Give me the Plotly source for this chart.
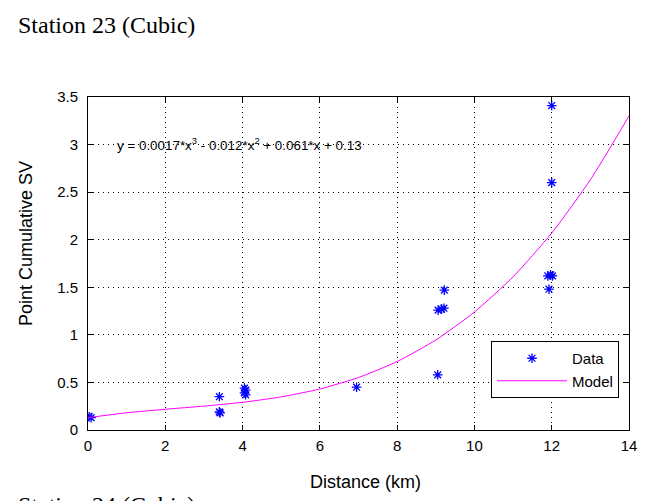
import plotly.graph_objects as go

# Data points (Distance km, Point Cumulative SV)
data_x = [0.03, 0.08, 3.4, 3.4, 3.42, 4.05, 4.05, 4.08, 4.08, 6.95, 9.05, 9.06, 9.15, 9.21, 9.22, 11.9, 11.93, 11.97, 12.02, 12.0, 12.0]
data_y = [0.14, 0.13, 0.35, 0.19, 0.18, 0.44, 0.39, 0.42, 0.37, 0.45, 0.58, 1.26, 1.27, 1.28, 1.47, 1.62, 1.48, 1.63, 1.62, 2.6, 3.41]

# Model curve values
model_x = [0, 1, 2, 3, 4, 5, 6, 7, 8, 9, 10, 11, 12, 13, 14]
model_y = [0.13, 0.181, 0.218, 0.251, 0.291, 0.348, 0.431, 0.552, 0.720, 0.946, 1.24, 1.61, 2.07, 2.63, 3.30]

x_ticks = [0, 2, 4, 6, 8, 10, 12, 14]
y_ticks = [0, 0.5, 1, 1.5, 2, 2.5, 3, 3.5]

W, H = 657, 501
L, R, T, B = 88, 28, 97, 71
PW, PH = W - L - R, H - T - B

def px(xp):
    return (xp - L) / PW

def py(yp):
    return (H - B - yp) / PH

fig = go.Figure()
fig.add_trace(go.Scatter(
    x=data_x, y=data_y, mode="markers", name="Data",
    marker=dict(symbol="asterisk-open", size=8, color="#0000FF",
                line=dict(color="#0000FF", width=1.3)),
))
fig.add_trace(go.Scatter(
    x=model_x, y=model_y, mode="lines", name="Model",
    line=dict(color="#FF00FF", width=1, shape="spline", smoothing=0.6),
))

axis_common = dict(
    showline=True, linecolor="black", linewidth=1, mirror="allticks",
    ticks="inside", ticklen=5, tickcolor="black",
    showgrid=True, gridcolor="black", griddash="1px,4px", gridwidth=1,
    zeroline=False,
    tickfont=dict(family="Liberation Sans, Arial", size=15, color="black"),
)

fig.update_xaxes(range=[0, 14], tickvals=x_ticks,
                 ticktext=[str(v) for v in x_ticks], ticklabelstandoff=2, **axis_common)
fig.update_yaxes(range=[0, 3.5], tickvals=y_ticks,
                 ticktext=[("%g" % v) for v in y_ticks], ticklabelstandoff=6, **axis_common)

fig.add_annotation(x=0.7, y=3.0, xref="x", yref="y", xanchor="left", yanchor="middle",
                   text="y = 0.0017*x<sup>3</sup> - 0.012*x<sup>2</sup> + 0.061*x + 0.13",
                   showarrow=False,
                   font=dict(family="Liberation Sans, Arial", size=13.4, color="black"))

fig.add_annotation(x=px(365), y=py(482), xref="paper", yref="paper",
                   xanchor="center", yanchor="middle", text="Distance (km)",
                   showarrow=False,
                   font=dict(family="Liberation Sans, Arial", size=18, color="black"))
fig.add_annotation(x=px(26), y=py(244), xref="paper", yref="paper",
                   xanchor="center", yanchor="middle", text="Point Cumulative SV",
                   textangle=-90, showarrow=False,
                   font=dict(family="Liberation Sans, Arial", size=18, color="black"))

fig.add_annotation(x=px(16), y=py(25), xref="paper", yref="paper",
                   xanchor="left", yanchor="middle", text="Station 23 (Cubic)",
                   showarrow=False,
                   font=dict(family="Liberation Serif, Times New Roman", size=24, color="black"))
fig.add_annotation(x=px(16), y=py(490), xref="paper", yref="paper",
                   xanchor="left", yanchor="top", text="Station 24 (Cubic)",
                   showarrow=False,
                   font=dict(family="Liberation Serif, Times New Roman", size=24, color="black"))

fig.update_layout(
    width=W, height=H,
    margin=dict(l=L, r=R, t=T, b=B, autoexpand=False),
    paper_bgcolor="white", plot_bgcolor="white",
    showlegend=True,
    legend=dict(x=px(619), y=py(341), xanchor="right", yanchor="top",
                bgcolor="white", bordercolor="black", borderwidth=1,
                font=dict(family="Liberation Sans, Arial", size=15, color="black"),
                tracegroupgap=0, itemwidth=70),
)

fig.write_html("out.html")
